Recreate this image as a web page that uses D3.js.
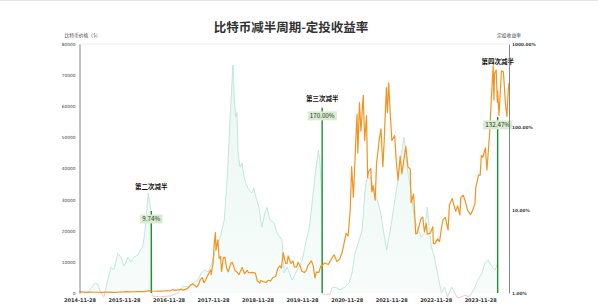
<!DOCTYPE html>
<html>
<head>
<meta charset="utf-8">
<script src="https://cdn.jsdelivr.net/npm/d3@7"></script>
<style>
  body { margin: 0; background: #fff; }
  text { font-family: "Noto Sans CJK SC", "Noto Sans", sans-serif; }
</style>
</head>
<body>
<div class="chart-container"></div>
<script>
// Data
const priceData = [
    ['2014-11-28', 376], ['2014-12-15', 350], ['2015-01-01', 315], ['2015-01-14', 178],
    ['2015-02-01', 227], ['2015-03-01', 260], ['2015-04-01', 245], ['2015-05-01', 235],
    ['2015-06-01', 225], ['2015-07-01', 260], ['2015-08-01', 280], ['2015-08-25', 210],
    ['2015-09-15', 230], ['2015-10-15', 265], ['2015-11-04', 400], ['2015-11-15', 330],
    ['2015-12-15', 455], ['2016-01-15', 385], ['2016-02-15', 405], ['2016-03-15', 415],
    ['2016-04-15', 430], ['2016-05-15', 455], ['2016-06-17', 750], ['2016-07-09', 650],
    ['2016-08-15', 570], ['2016-09-15', 605], ['2016-10-15', 640], ['2016-11-15', 710],
    ['2016-12-15', 780], ['2017-01-04', 1130], ['2017-01-15', 820], ['2017-02-15', 1010],
    ['2017-03-10', 1190], ['2017-03-25', 930], ['2017-04-15', 1180], ['2017-05-01', 1420],
    ['2017-05-25', 2400], ['2017-06-12', 2950], ['2017-07-15', 1920], ['2017-08-01', 2730],
    ['2017-08-15', 4300], ['2017-09-01', 4900], ['2017-09-15', 3300], ['2017-10-01', 4400],
    ['2017-10-20', 6000], ['2017-11-08', 7400], ['2017-11-12', 5900], ['2017-11-28', 9700],
    ['2017-12-08', 16000], ['2017-12-17', 19400], ['2017-12-22', 13800], ['2018-01-06', 17100],
    ['2018-01-17', 11100], ['2018-01-28', 11700], ['2018-02-06', 6900], ['2018-02-20', 11300],
    ['2018-03-05', 11500], ['2018-03-18', 8200], ['2018-04-01', 6800], ['2018-04-24', 9600],
    ['2018-05-05', 9800], ['2018-05-29', 7100], ['2018-06-10', 6800], ['2018-06-29', 5900],
    ['2018-07-24', 8200], ['2018-08-14', 6200], ['2018-09-04', 7300], ['2018-09-15', 6500],
    ['2018-10-15', 6600], ['2018-11-10', 6400], ['2018-11-25', 3900], ['2018-12-15', 3200],
    ['2018-12-24', 4000], ['2019-01-15', 3600], ['2019-02-08', 3400], ['2019-02-24', 4100],
    ['2019-03-15', 3900], ['2019-04-02', 4900], ['2019-04-25', 5300], ['2019-05-14', 8000],
    ['2019-05-30', 8700], ['2019-06-12', 8000], ['2019-06-26', 13000], ['2019-07-16', 9500],
    ['2019-07-28', 9500], ['2019-08-06', 11900], ['2019-08-29', 9500], ['2019-09-15', 10300],
    ['2019-09-25', 8400], ['2019-10-15', 8300], ['2019-10-26', 9900], ['2019-11-15', 8500],
    ['2019-11-25', 7000], ['2019-12-17', 6600], ['2020-01-01', 7200], ['2020-01-15', 8800],
    ['2020-02-13', 10300], ['2020-02-27', 8800], ['2020-03-12', 4900], ['2020-03-25', 6700],
    ['2020-04-15', 6600], ['2020-04-30', 8700], ['2020-05-11', 8700], ['2020-05-31', 9700],
    ['2020-06-15', 9400], ['2020-07-01', 9200], ['2020-07-27', 11000], ['2020-08-17', 12300],
    ['2020-09-08', 10100], ['2020-09-30', 10800], ['2020-10-21', 12900], ['2020-11-05', 15600],
    ['2020-11-24', 19200], ['2020-12-10', 18300], ['2020-12-27', 26500], ['2021-01-08', 40600],
    ['2021-01-22', 30800], ['2021-02-08', 46200], ['2021-02-21', 57500], ['2021-02-28', 45000],
    ['2021-03-13', 61200], ['2021-03-25', 52000], ['2021-04-13', 63500], ['2021-04-25', 49000],
    ['2021-05-10', 57000], ['2021-05-19', 37000], ['2021-05-26', 39000], ['2021-06-14', 40000],
    ['2021-06-22', 32500], ['2021-07-03', 34500], ['2021-07-20', 29800], ['2021-07-31', 41500],
    ['2021-08-22', 49200], ['2021-09-06', 52700], ['2021-09-21', 40600], ['2021-10-01', 48000],
    ['2021-10-20', 66000], ['2021-10-28', 58000], ['2021-11-08', 67500], ['2021-11-20', 58000],
    ['2021-12-04', 49000], ['2021-12-27', 50600], ['2022-01-10', 41800], ['2022-01-24', 36300],
    ['2022-02-10', 44000], ['2022-02-24', 38300], ['2022-03-28', 47100], ['2022-04-15', 40500],
    ['2022-05-04', 39700], ['2022-05-11', 29000], ['2022-05-31', 31800], ['2022-06-18', 19000],
    ['2022-07-01', 19300], ['2022-07-30', 23800], ['2022-08-14', 24400], ['2022-08-28', 19600],
    ['2022-09-12', 22400], ['2022-09-20', 18900], ['2022-10-15', 19200], ['2022-11-05', 21300],
    ['2022-11-09', 15900], ['2022-11-21', 15800], ['2022-12-15', 17400], ['2022-12-30', 16500],
    ['2023-01-15', 20900], ['2023-01-29', 23700], ['2023-02-16', 24300], ['2023-03-10', 20200],
    ['2023-03-21', 28200], ['2023-04-13', 30400], ['2023-04-26', 28400], ['2023-05-12', 26300],
    ['2023-05-28', 28000], ['2023-06-15', 25000], ['2023-06-23', 30700], ['2023-07-13', 31400],
    ['2023-07-31', 29200], ['2023-08-17', 26600], ['2023-09-11', 25200], ['2023-09-25', 26300],
    ['2023-10-16', 28500], ['2023-10-24', 33900], ['2023-11-15', 37900], ['2023-11-28', 37800],
    ['2023-12-08', 44200], ['2023-12-20', 43600], ['2024-01-10', 46600], ['2024-01-23', 39500],
    ['2024-02-15', 51800], ['2024-02-28', 62500], ['2024-03-14', 73100], ['2024-03-20', 62000],
    ['2024-03-26', 70600], ['2024-04-08', 71600], ['2024-04-17', 61300], ['2024-04-20', 64900],
    ['2024-05-01', 57100], ['2024-05-21', 71400], ['2024-06-06', 71100], ['2024-06-24', 60300],
    ['2024-07-05', 56700], ['2024-07-15', 64800], ['2024-07-22', 67500]
];

// 定投收益率 (%), right log axis
const rateData = [
    ['2014-11-28', 1.0], ['2015-02-06', 1.03], ['2015-04-05', 1.32], ['2015-04-27', 1.28],
    ['2015-05-22', 1.0], ['2015-06-16', 0.9], ['2015-07-18', 1.43], ['2015-08-14', 2.06],
    ['2015-09-06', 1.9], ['2015-10-08', 3.0], ['2015-11-03', 2.7], ['2015-11-28', 2.1],
    ['2015-12-31', 2.7], ['2016-01-22', 2.36], ['2016-02-18', 2.7], ['2016-03-21', 2.87],
    ['2016-04-09', 3.3], ['2016-04-30', 3.6], ['2016-05-19', 5.7], ['2016-06-14', 16],
    ['2016-06-24', 13.2], ['2016-06-30', 10.8], ['2016-07-09', 9.5], ['2016-07-16', 0.92],
    ['2016-09-20', 0.9], ['2016-12-10', 0.92], ['2017-02-14', 1.0], ['2017-03-25', 1.2],
    ['2017-05-04', 1.18], ['2017-06-18', 1.32], ['2017-07-27', 1.43], ['2017-08-22', 1.74],
    ['2017-09-23', 1.89], ['2017-10-19', 1.79], ['2017-11-21', 2.36], ['2017-12-24', 3.5],
    ['2018-01-26', 4.7], ['2018-02-28', 7.6], ['2018-03-23', 23], ['2018-04-16', 121],
    ['2018-05-10', 560], ['2018-05-22', 210], ['2018-06-03', 132], ['2018-06-12', 150],
    ['2018-06-20', 52], ['2018-07-06', 33], ['2018-07-23', 37], ['2018-08-08', 26],
    ['2018-08-24', 21], ['2018-09-18', 17.4], ['2018-10-12', 16], ['2018-10-28', 18.5],
    ['2018-11-14', 14.3], ['2018-12-09', 10.8], ['2019-01-02', 6.2], ['2019-01-27', 9.2],
    ['2019-02-13', 10.8], ['2019-03-10', 7.6], ['2019-04-12', 7.0], ['2019-05-07', 5.3],
    ['2019-06-17', 4.35], ['2019-07-04', 1.74], ['2019-07-28', 2.06], ['2019-09-08', 1.43],
    ['2019-10-19', 1.9], ['2019-11-30', 2.5], ['2020-01-02', 4.35], ['2020-01-27', 6.2],
    ['2020-02-21', 13.2], ['2020-03-16', 28], ['2020-04-10', 52], ['2020-04-22', 40],
    ['2020-05-11', 12], ['2020-05-14', 0.97], ['2020-07-16', 0.97], ['2020-07-30', 1.15],
    ['2020-08-24', 1.18], ['2020-10-04', 1.09], ['2020-11-14', 1.18], ['2020-12-17', 1.32],
    ['2021-01-11', 1.74], ['2021-02-05', 3.0], ['2021-03-10', 4.35], ['2021-04-04', 5.7],
    ['2021-04-28', 17.4], ['2021-05-10', 23], ['2021-06-12', 25], ['2021-07-07', 19],
    ['2021-08-01', 14.3], ['2021-09-03', 9.2], ['2021-09-28', 5.3], ['2021-10-23', 3.3],
    ['2021-11-25', 6.2], ['2021-12-20', 10.8], ['2022-01-14', 19], ['2022-02-16', 43],
    ['2022-03-13', 76], ['2022-03-29', 52], ['2022-04-08', 33], ['2022-05-11', 16],
    ['2022-06-05', 8.2], ['2022-06-30', 6.2], ['2022-08-02', 4.7], ['2022-08-27', 5.3],
    ['2022-09-21', 10.8], ['2022-10-08', 5.7], ['2022-10-24', 3.6], ['2022-11-18', 2.7],
    ['2022-12-13', 1.74], ['2023-01-15', 1.0], ['2023-02-09', 1.18], ['2023-03-06', 0.9],
    ['2023-04-08', 1.18], ['2023-05-03', 1.0], ['2023-05-28', 0.87], ['2023-06-30', 0.9],
    ['2023-07-25', 0.94], ['2023-08-27', 0.9], ['2023-09-21', 1.0], ['2023-10-16', 1.18],
    ['2023-11-10', 1.43], ['2023-12-13', 1.74], ['2024-01-07', 2.3], ['2024-02-01', 2.5],
    ['2024-03-05', 2.06], ['2024-03-30', 1.9], ['2024-04-20', 2.3]
];

const halvings = [
    { name: '第二次减半', date: '2016-07-09', rate: 9.74, labelAt: 34000 },
    { name: '第三次减半', date: '2020-05-11', rate: 170.00, labelAt: 62300 },
    { name: '第四次减半', date: '2024-04-20', rate: 132.47, labelAt: 74200 }
];

const xTicks = ['2014-11-28', '2015-11-28', '2016-11-28', '2017-11-28', '2018-11-28',
    '2019-11-28', '2020-11-28', '2021-11-28', '2022-11-28', '2023-11-28'];
const priceTicks = [0, 10000, 20000, 30000, 40000, 50000, 60000, 70000, 80000];
const rateTicks = [1, 10, 100, 1000];

const parseDate = d3.timeParse('%Y-%m-%d');

// Layout
const svgWidth = 598;
const svgHeight = 306;
const plot = { left: 79.5, right: 509, top: 44, bottom: 293 };

const svg = d3.select('.chart-container')
    .append('svg')
    .attr('width', svgWidth)
    .attr('height', svgHeight);

// Scales
const xScale = d3.scaleTime()
    .domain([parseDate('2014-11-28'), parseDate('2024-07-22')])
    .range([plot.left, plot.right]);

const yPrice = d3.scaleLinear()
    .domain([0, 80000])
    .range([plot.bottom, plot.top]);

const yRate = d3.scaleLog()
    .domain([1, 1000])
    .range([plot.bottom, plot.top]);

// Clip paths: above / below the 1% baseline
const defs = svg.append('defs');
defs.append('clipPath').attr('id', 'clip-above')
    .append('rect')
    .attr('x', plot.left).attr('y', plot.top)
    .attr('width', plot.right - plot.left).attr('height', plot.bottom - plot.top);
defs.append('clipPath').attr('id', 'clip-below')
    .append('rect')
    .attr('x', plot.left).attr('y', plot.bottom)
    .attr('width', plot.right - plot.left).attr('height', 12);

const grad = defs.append('linearGradient')
    .attr('id', 'rate-fill')
    .attr('x1', 0).attr('x2', 0)
    .attr('gradientUnits', 'userSpaceOnUse')
    .attr('y1', plot.top).attr('y2', plot.bottom);
grad.append('stop').attr('offset', '0%').attr('stop-color', '#cdeee2').attr('stop-opacity', 0.5);
grad.append('stop').attr('offset', '100%').attr('stop-color', '#eef9f5').attr('stop-opacity', 0.45);

// Top border line
svg.append('line')
    .attr('x1', 0).attr('x2', svgWidth)
    .attr('y1', 0.5).attr('y2', 0.5)
    .style('stroke', '#e6e6e6');

svg.append('line')
    .attr('x1', plot.left).attr('x2', plot.right)
    .attr('y1', plot.top).attr('y2', plot.top)
    .style('stroke', '#f0f0f0');

// Rate area + line
const rates = rateData.map(d => ({ date: parseDate(d[0]), value: d[1] }));

const rateArea = d3.area()
    .x(d => xScale(d.date))
    .y0(plot.bottom)
    .y1(d => yRate(d.value));

const rateLine = d3.line()
    .x(d => xScale(d.date))
    .y(d => yRate(d.value));

svg.append('path')
    .datum(rates)
    .attr('d', rateArea)
    .attr('clip-path', 'url(#clip-above)')
    .style('fill', 'url(#rate-fill)');

svg.append('path')
    .datum(rates)
    .attr('d', rateLine)
    .attr('clip-path', 'url(#clip-above)')
    .style('fill', 'none')
    .style('stroke', '#b2e3d2')
    .style('stroke-width', 0.8);

svg.append('path')
    .datum(rates)
    .attr('d', rateLine)
    .attr('clip-path', 'url(#clip-below)')
    .style('fill', 'none')
    .style('stroke', '#f1b7c3')
    .style('stroke-width', 0.8);

// Halving lines
svg.append('g')
    .attr('class', 'halving-lines')
    .selectAll('.halving-line')
    .data(halvings)
    .enter()
    .append('line')
    .attr('class', 'halving-line')
    .attr('x1', d => xScale(parseDate(d.date)))
    .attr('x2', d => xScale(parseDate(d.date)))
    .attr('y1', plot.bottom)
    .attr('y2', d => yRate(d.rate))
    .style('stroke', '#1b9230')
    .style('stroke-width', 1.4);

// Price line
const prices = priceData.map(d => ({ date: parseDate(d[0]), value: d[1] }));

svg.append('path')
    .datum(prices)
    .attr('d', d3.line().x(d => xScale(d.date)).y(d => yPrice(d.value)))
    .style('fill', 'none')
    .style('stroke', '#f39420')
    .style('stroke-width', 1.2)
    .style('stroke-linejoin', 'round');

// Halving labels (on top of the price line)
const labelG = svg.append('g').attr('class', 'halving-labels');

labelG.selectAll('.halving-name')
    .data(halvings)
    .enter()
    .append('text')
    .attr('class', 'halving-name')
    .attr('x', d => xScale(parseDate(d.date)))
    .attr('y', d => yPrice(d.labelAt))
    .attr('text-anchor', 'middle')
    .attr('dominant-baseline', 'middle')
    .style('font-size', '6.5px')
    .style('font-weight', 'bold')
    .style('fill', '#111')
    .text(d => d.name);

const boxes = labelG.selectAll('.halving-box')
    .data(halvings)
    .enter()
    .append('g')
    .attr('class', 'halving-box')
    .attr('transform', d => 'translate(' + xScale(parseDate(d.date)) + ',' + (yRate(d.rate) + 8) + ')');

boxes.append('text')
    .attr('text-anchor', 'middle')
    .attr('dominant-baseline', 'middle')
    .style('font-size', '6.3px')
    .style('fill', '#333')
    .text(d => d.rate.toFixed(2) + '%')
    .each(function () {
        const bb = this.getBBox();
        d3.select(this.parentNode).insert('rect', 'text')
            .attr('x', bb.x - 2)
            .attr('y', -4.5)
            .attr('width', bb.width + 4)
            .attr('height', 9)
            .style('fill', '#d8ecd0');
    });

// Axes
const fmtTick = d3.timeFormat('%Y-%m-%d');

const xAxis = d3.axisBottom(xScale)
    .tickValues(xTicks.map(parseDate))
    .tickFormat(fmtTick)
    .tickSize(0)
    .tickPadding(5);

const xAxisDraw = svg.append('g')
    .attr('class', 'x axis')
    .attr('transform', 'translate(0,' + plot.bottom + ')')
    .call(xAxis);
xAxisDraw.select('.domain').remove();
xAxisDraw.selectAll('text')
    .style('font-size', '5px')
    .style('font-weight', 'bold')
    .style('fill', '#333')
    .style('font-family', '"DejaVu Sans", sans-serif');

const yAxisLeft = d3.axisLeft(yPrice)
    .tickValues(priceTicks)
    .tickFormat(d3.format('d'))
    .tickSize(0)
    .tickPadding(4);

const yLeftDraw = svg.append('g')
    .attr('class', 'y axis')
    .attr('transform', 'translate(' + plot.left + ',0)')
    .call(yAxisLeft);
yLeftDraw.select('.domain').style('stroke', '#777').style('stroke-width', 0.9);
yLeftDraw.selectAll('text')
    .style('font-size', '4.3px')
    .style('fill', '#444')
    .style('font-family', '"DejaVu Sans", sans-serif');

const yAxisRight = d3.axisRight(yRate)
    .tickValues(rateTicks)
    .tickFormat(d => d.toFixed(2) + '%')
    .tickSize(0)
    .tickPadding(3);

const yRightDraw = svg.append('g')
    .attr('class', 'y axis')
    .attr('transform', 'translate(' + plot.right + ',0)')
    .call(yAxisRight);
yRightDraw.select('.domain').style('stroke', '#777').style('stroke-width', 0.9);
yRightDraw.selectAll('text')
    .style('font-size', '4.3px')
    .style('fill', '#444')
    .style('font-weight', 'bold')
    .style('font-family', '"DejaVu Sans", sans-serif');

// Axis names
svg.append('text')
    .attr('x', plot.left + 3)
    .attr('y', 37)
    .attr('text-anchor', 'middle')
    .style('font-size', '4.8px')
    .style('fill', '#444')
    .text('比特币价格（$）');

svg.append('text')
    .attr('x', plot.right)
    .attr('y', 37)
    .attr('text-anchor', 'middle')
    .style('font-size', '4.8px')
    .style('fill', '#444')
    .text('定投收益率');

// Title
svg.append('text')
    .attr('x', 291)
    .attr('y', 32)
    .attr('text-anchor', 'middle')
    .style('font-size', '12.5px')
    .style('font-weight', 'bold')
    .style('fill', '#333')
    .text('比特币减半周期-定投收益率');
</script>
</body>
</html>
